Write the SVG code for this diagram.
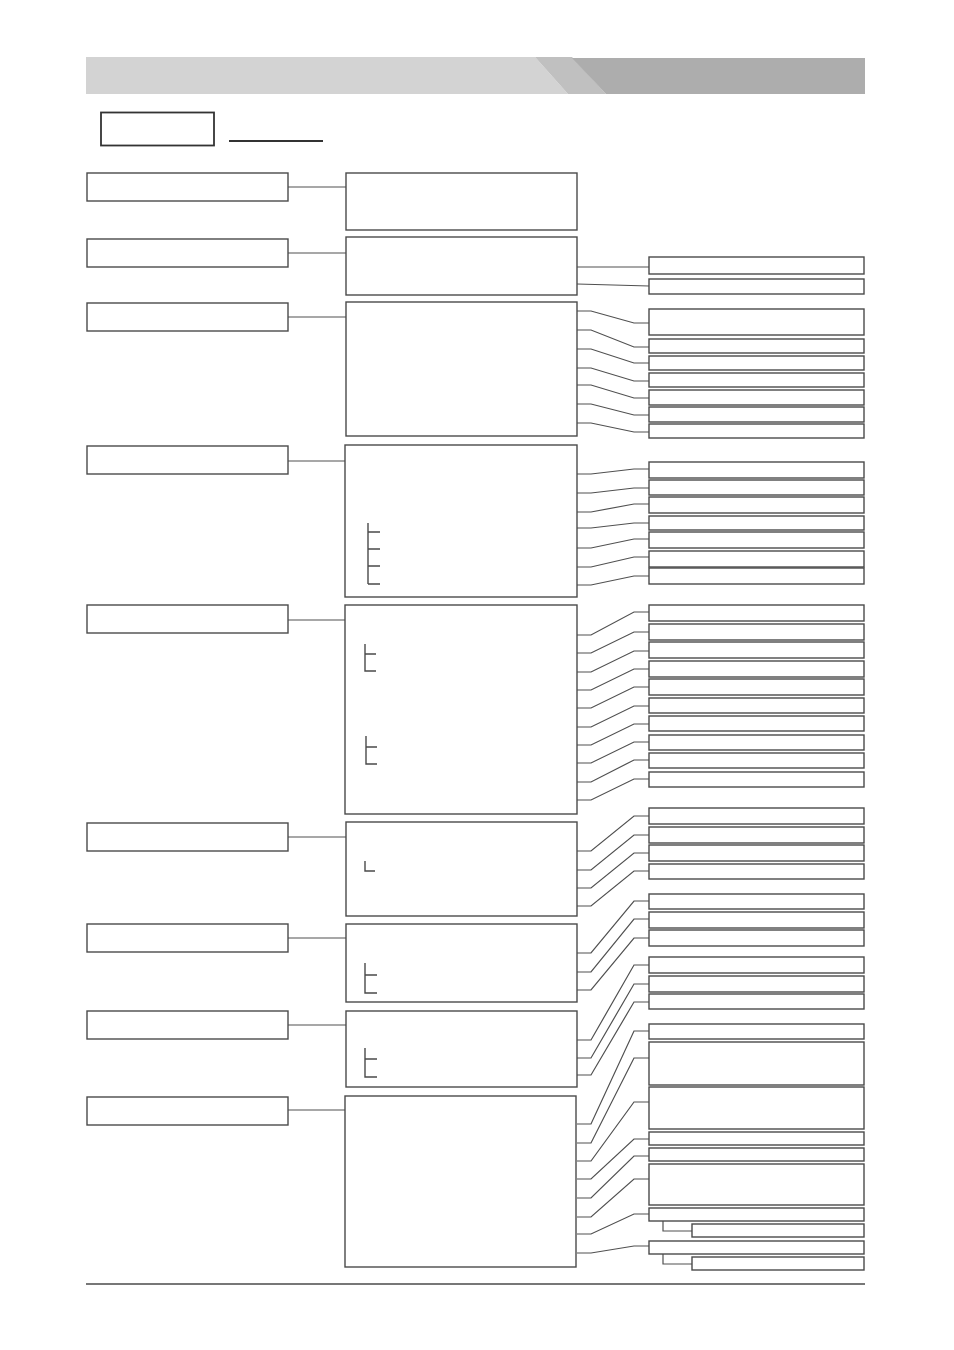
<svg xmlns="http://www.w3.org/2000/svg" width="954" height="1350" viewBox="0 0 954 1350">
<style>
.b{fill:#fff;stroke:#4a4a4a;stroke-width:1.4}
.c{fill:none;stroke:#505050;stroke-width:1.2}
.t{fill:none;stroke:#4a4a4a;stroke-width:1.4}
</style>
<rect width="954" height="1350" fill="#fff"/>
<g id="header">
<polygon points="86,57 535,57 568,94 86,94" fill="#d3d3d3"/>
<polygon points="535,57 572,57 606,94 568,94" fill="#c0c0c0"/>
<polygon points="572,58 865,58 865,94 606,94" fill="#adadad"/>
</g>
<g id="title">
<rect x="101" y="112.5" width="113" height="33" fill="#fff" stroke="#333" stroke-width="1.8"/>
<line x1="229" y1="141" x2="323" y2="141" stroke="#333" stroke-width="2"/>
</g>
<g id="connectors">
<path class="c" d="M288,187H346M288,253H346M288,317H346M288,461H346M288,620H346M288,837H346M288,938H346M288,1025H346M288,1110H346"/>
<path class="c" d="M577,267H649M577,284L649,286"/>
<path class="c" d="M577,311H591L634,323H649M577,330H591L634,347H649M577,349H591L634,363H649M577,368H591L634,381H649M577,385H591L634,398H649M577,404H591L634,415H649M577,423H591L634,432H649"/>
<path class="c" d="M577,474H591L634,469H649M577,493H591L634,488H649M577,512H591L634,504H649M577,528H591L634,523H649M577,548H591L634,539H649M577,567H591L634,557H649M577,585H591L634,576H649"/>
<path class="c" d="M577,635H591L634,612H649M577,653H591L634,632H649M577,672H591L634,651H649M577,690H591L634,669H649M577,708H591L634,687H649M577,727H591L634,706H649M577,745H591L634,724H649M577,763H591L634,742H649M577,782H591L634,760H649M577,800H591L634,779H649"/>
<path class="c" d="M577,851H591L634,816H649M577,870H591L634,835H649M577,888H591L634,853H649M577,906H591L634,871H649"/>
<path class="c" d="M577,953H591L634,901H649M577,972H591L634,919H649M577,990H591L634,938H649"/>
<path class="c" d="M577,1040H591L634,965H649M577,1058H591L634,984H649M577,1075H591L634,1002H649"/>
<path class="c" d="M577,1124H591L634,1031H649M577,1143H591L634,1058H649M577,1161H591L634,1102H649M577,1179H591L634,1139H649M577,1198H591L634,1156H649M577,1217H591L634,1179H649M577,1234H591L634,1214H649M577,1253H591L634,1246H649"/>
<path class="c" d="M663,1221V1231H692M663,1254V1264H692"/>
</g>
<g id="left-column">
<rect class="b" x="87" y="173" width="201" height="28"/>
<rect class="b" x="87" y="239" width="201" height="28"/>
<rect class="b" x="87" y="303" width="201" height="28"/>
<rect class="b" x="87" y="446" width="201" height="28"/>
<rect class="b" x="87" y="605" width="201" height="28"/>
<rect class="b" x="87" y="823" width="201" height="28"/>
<rect class="b" x="87" y="924" width="201" height="28"/>
<rect class="b" x="87" y="1011" width="201" height="28"/>
<rect class="b" x="87" y="1097" width="201" height="28"/>
</g>
<g id="middle-column">
<rect class="b" x="346" y="173" width="231" height="57"/>
<rect class="b" x="346" y="237" width="231" height="58"/>
<rect class="b" x="346" y="302" width="231" height="134"/>
<rect class="b" x="345" y="445" width="232" height="152"/>
<rect class="b" x="345" y="605" width="232" height="209"/>
<rect class="b" x="346" y="822" width="231" height="94"/>
<rect class="b" x="346" y="924" width="231" height="78"/>
<rect class="b" x="346" y="1011" width="231" height="76"/>
<rect class="b" x="345" y="1096" width="231" height="171"/>
</g>
<g id="inner-brackets">
<path class="t" d="M368,523V584M368,532H380M368,549H380M368,566H380M368,584H380"/>
<path class="t" d="M365,644V671H376M365,654H376"/>
<path class="t" d="M366,736V764H377M366,747H377"/>
<path class="t" d="M365,861V871H375"/>
<path class="t" d="M365,963V993H377M365,975H377"/>
<path class="t" d="M365,1048V1077H377M365,1059H377"/>
</g>
<g id="right-column">
<rect class="b" x="649" y="257" width="215" height="17"/>
<rect class="b" x="649" y="279" width="215" height="15"/>
<rect class="b" x="649" y="309" width="215" height="26"/>
<rect class="b" x="649" y="339" width="215" height="14"/>
<rect class="b" x="649" y="356" width="215" height="14"/>
<rect class="b" x="649" y="373" width="215" height="14"/>
<rect class="b" x="649" y="390" width="215" height="15"/>
<rect class="b" x="649" y="407" width="215" height="15"/>
<rect class="b" x="649" y="424" width="215" height="14"/>
<rect class="b" x="649" y="462" width="215" height="16"/>
<rect class="b" x="649" y="480" width="215" height="15"/>
<rect class="b" x="649" y="497" width="215" height="16"/>
<rect class="b" x="649" y="516" width="215" height="14"/>
<rect class="b" x="649" y="532" width="215" height="16"/>
<rect class="b" x="649" y="551" width="215" height="16"/>
<rect class="b" x="649" y="568" width="215" height="16"/>
<rect class="b" x="649" y="605" width="215" height="16"/>
<rect class="b" x="649" y="624" width="215" height="16"/>
<rect class="b" x="649" y="642" width="215" height="16"/>
<rect class="b" x="649" y="661" width="215" height="16"/>
<rect class="b" x="649" y="679" width="215" height="16"/>
<rect class="b" x="649" y="698" width="215" height="15"/>
<rect class="b" x="649" y="716" width="215" height="15"/>
<rect class="b" x="649" y="735" width="215" height="15"/>
<rect class="b" x="649" y="753" width="215" height="15"/>
<rect class="b" x="649" y="772" width="215" height="15"/>
<rect class="b" x="649" y="808" width="215" height="16"/>
<rect class="b" x="649" y="827" width="215" height="16"/>
<rect class="b" x="649" y="845" width="215" height="16"/>
<rect class="b" x="649" y="864" width="215" height="15"/>
<rect class="b" x="649" y="894" width="215" height="15"/>
<rect class="b" x="649" y="912" width="215" height="16"/>
<rect class="b" x="649" y="930" width="215" height="16"/>
<rect class="b" x="649" y="957" width="215" height="16"/>
<rect class="b" x="649" y="976" width="215" height="16"/>
<rect class="b" x="649" y="994" width="215" height="15"/>
<rect class="b" x="649" y="1024" width="215" height="15"/>
<rect class="b" x="649" y="1042" width="215" height="43"/>
<rect class="b" x="649" y="1087" width="215" height="42"/>
<rect class="b" x="649" y="1132" width="215" height="13"/>
<rect class="b" x="649" y="1148" width="215" height="13"/>
<rect class="b" x="649" y="1164" width="215" height="41"/>
<rect class="b" x="649" y="1208" width="215" height="13"/>
<rect class="b" x="692" y="1224" width="172" height="13"/>
<rect class="b" x="649" y="1241" width="215" height="13"/>
<rect class="b" x="692" y="1257" width="172" height="13"/>
</g>
<line id="footer" x1="86" y1="1284" x2="865" y2="1284" stroke="#777" stroke-width="2"/>
</svg>
